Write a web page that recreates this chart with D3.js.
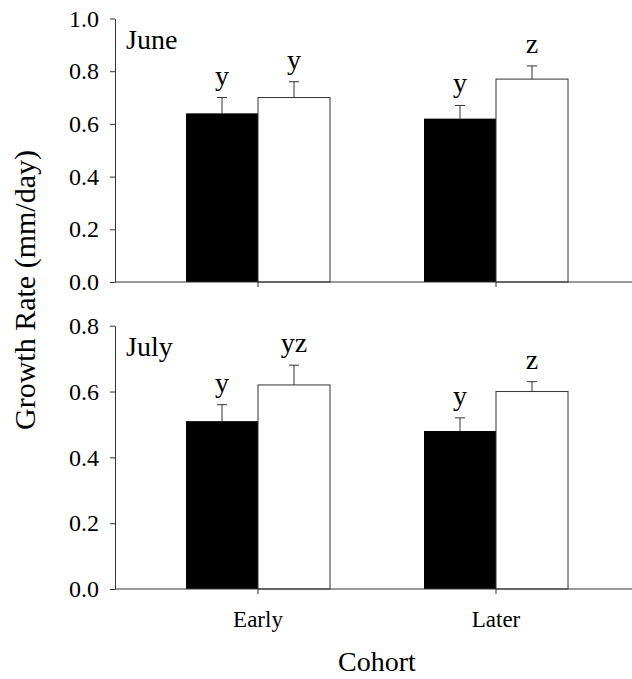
<!DOCTYPE html>
<html>
<head>
<meta charset="utf-8">
<script src="https://cdn.jsdelivr.net/npm/d3@7"></script>
<style>
  body { margin: 0; background: #fff; }
  svg { display: block; }
  svg text { font-family: 'Liberation Serif', Tinos, 'Times New Roman', Times, 'DejaVu Serif', serif; fill: #000; }
</style>
</head>
<body>
<div id="chart"></div>
<script>
// chart values
const cohorts = ['Early', 'Later'];
const series = ['black', 'white'];

const juneBlack = [0.64, 0.62];
const juneBlackErr = [0.06, 0.05];
const juneWhite = [0.70, 0.77];
const juneWhiteErr = [0.06, 0.05];
const juneBlackLetters = ['y', 'y'];
const juneWhiteLetters = ['y', 'z'];

const julyBlack = [0.51, 0.48];
const julyBlackErr = [0.05, 0.04];
const julyWhite = [0.62, 0.60];
const julyWhiteErr = [0.06, 0.03];
const julyBlackLetters = ['y', 'y'];
const julyWhiteLetters = ['yz', 'z'];

const juneTicks = [0, 0.2, 0.4, 0.6, 0.8, 1.0];
const julyTicks = [0, 0.2, 0.4, 0.6, 0.8];

const width = 632;
const height = 679;
const axisLeftX = 115;
const axisRightX = 632;
const axisColor = '#333';
const fontStack = "'Liberation Serif', Tinos, 'Times New Roman', Times, 'DejaVu Serif', serif";

const svg = d3.select('#chart')
    .append('svg')
    .attr('width', width)
    .attr('height', height)
    .style('font-family', fontStack);

const xScale = d3.scaleBand()
    .domain(cohorts)
    .range([139, 615]);

const barWidth = 72;
const xSub = d3.scaleBand()
    .domain(series)
    .range([-barWidth, barWidth]);

const buildRows = (black, blackErr, white, whiteErr, blackLetters, whiteLetters) => {
    let rows = [];
    cohorts.forEach((c, i) => {
        rows.push({ cohort: c, s: 'black', value: black[i], err: blackErr[i], letter: blackLetters[i] });
        rows.push({ cohort: c, s: 'white', value: white[i], err: whiteErr[i], letter: whiteLetters[i] });
    });
    return rows;
};

const panels = [
    {
        name: 'June', top: 18.5, bottom: 282, max: 1.0, ticks: juneTicks, labels: false,
        rows: buildRows(juneBlack, juneBlackErr, juneWhite, juneWhiteErr, juneBlackLetters, juneWhiteLetters)
    },
    {
        name: 'July', top: 325.7, bottom: 589, max: 0.8, ticks: julyTicks, labels: true,
        rows: buildRows(julyBlack, julyBlackErr, julyWhite, julyWhiteErr, julyBlackLetters, julyWhiteLetters)
    }
];

panels.forEach(p => {
    const yScale = d3.scaleLinear()
        .domain([0, p.max])
        .range([p.bottom, p.top]);

    const g = svg.append('g');

    // bars
    g.selectAll('.bar')
        .data(p.rows)
        .enter()
        .append('rect')
        .classed('bar', true)
        .attr('x', d => xScale(d.cohort) + xScale.bandwidth() / 2 + xSub(d.s))
        .attr('y', d => yScale(d.value))
        .attr('width', xSub.bandwidth())
        .attr('height', d => p.bottom - yScale(d.value))
        .attr('fill', d => d.s === 'black' ? '#000' : '#fff')
        .attr('stroke', d => d.s === 'black' ? 'none' : axisColor)
        .attr('stroke-width', 1);

    // error bars (upper only)
    const cx = d => xScale(d.cohort) + xScale.bandwidth() / 2 + xSub(d.s) + xSub.bandwidth() / 2;
    g.selectAll('.err')
        .data(p.rows)
        .enter()
        .append('line')
        .classed('err', true)
        .attr('x1', cx)
        .attr('x2', cx)
        .attr('y1', d => yScale(d.value))
        .attr('y2', d => yScale(d.value + d.err))
        .attr('stroke', axisColor);

    g.selectAll('.cap')
        .data(p.rows)
        .enter()
        .append('line')
        .classed('cap', true)
        .attr('x1', d => cx(d) - 5)
        .attr('x2', d => cx(d) + 5)
        .attr('y1', d => yScale(d.value + d.err))
        .attr('y2', d => yScale(d.value + d.err))
        .attr('stroke', axisColor);

    // significance letters
    g.selectAll('.letter')
        .data(p.rows)
        .enter()
        .append('text')
        .classed('letter', true)
        .attr('x', cx)
        .attr('y', d => yScale(d.value + d.err) - 13)
        .attr('text-anchor', 'middle')
        .style('font-size', '28px')
        .text(d => d.letter);

    // y axis
    const yAxis = d3.axisLeft(yScale)
        .tickValues(p.ticks)
        .tickFormat(d3.format('.1f'))
        .tickSize(5)
        .tickSizeOuter(0)
        .tickPadding(11);

    const ya = g.append('g')
        .attr('transform', `translate(${axisLeftX},0)`)
        .call(yAxis)
        .attr('font-family', null);
    ya.selectAll('path, line').attr('stroke', axisColor);
    ya.selectAll('text').style('font-size', '24px');

    // x axis
    const xAxis = d3.axisBottom(xScale)
        .tickSize(5)
        .tickSizeOuter(0)
        .tickPadding(17)
        .tickFormat(p.labels ? (d => d) : '');

    const xa = g.append('g')
        .attr('transform', `translate(0,${p.bottom})`)
        .call(xAxis)
        .attr('font-family', null);
    xa.select('.domain').remove();
    xa.selectAll('line').attr('stroke', axisColor);
    xa.selectAll('text').style('font-size', '23px');

    g.append('line')
        .attr('x1', axisLeftX)
        .attr('x2', axisRightX)
        .attr('y1', p.bottom)
        .attr('y2', p.bottom)
        .attr('stroke', axisColor);

    // panel name
    g.append('text')
        .attr('x', 126)
        .attr('y', p.top + 30)
        .style('font-size', '28px')
        .text(p.name);
});

// axis titles
svg.append('text')
    .attr('transform', 'translate(35,290) rotate(-90)')
    .attr('text-anchor', 'middle')
    .style('font-size', '30px')
    .text('Growth Rate (mm/day)');

svg.append('text')
    .attr('x', 377)
    .attr('y', 671)
    .attr('text-anchor', 'middle')
    .style('font-size', '28px')
    .text('Cohort');
</script>
</body>
</html>
